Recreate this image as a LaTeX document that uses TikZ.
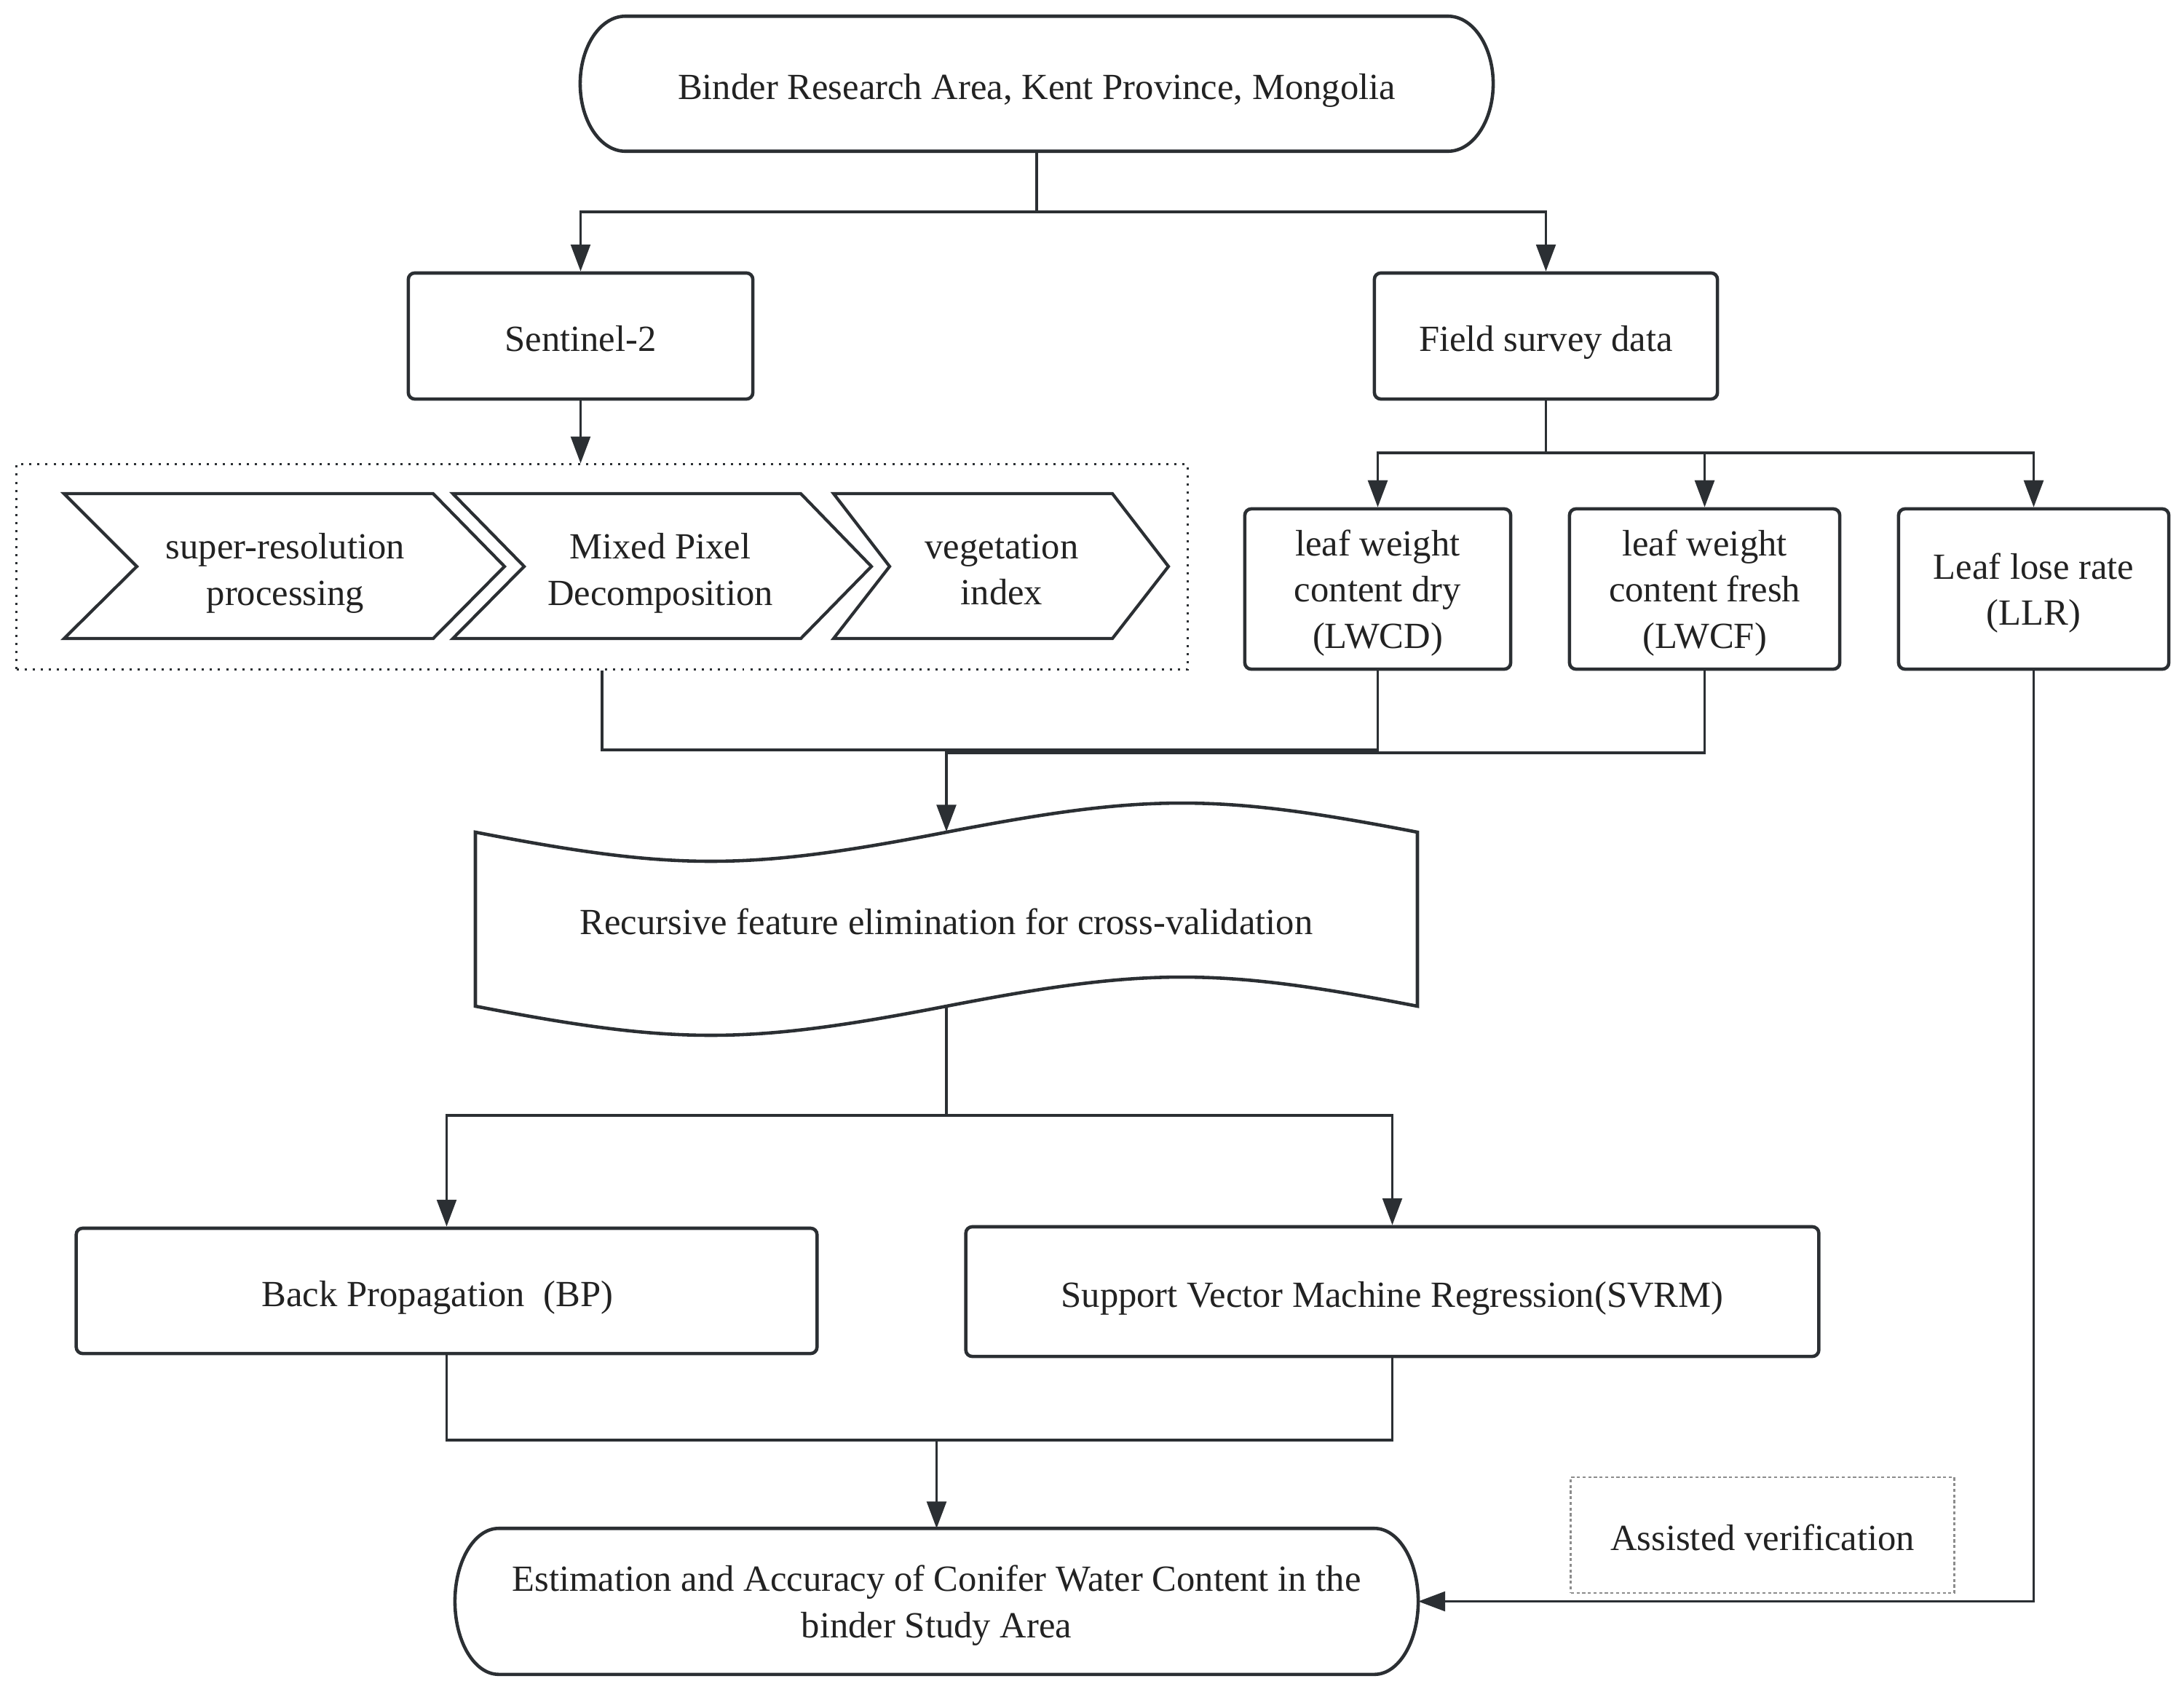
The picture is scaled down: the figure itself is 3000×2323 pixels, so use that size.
\documentclass[tikz,border=0pt]{standalone}
\usepackage{fontspec}
\setmainfont{Liberation Serif}
\usetikzlibrary{arrows.meta,calc}
\definecolor{ln}{HTML}{2B2F33}
\definecolor{tx}{HTML}{222222}
\definecolor{gr}{HTML}{8C8C8C}
\tikzset{
 boxline/.style={draw=ln, line width=1.3pt},
 rbox/.style={boxline, rounded corners=2.5pt, align=center, text=tx, inner sep=0pt, text height=12pt, text depth=0pt},
 mrbox/.style={boxline, rounded corners=2.5pt, align=center, text=tx, inner sep=0pt, text depth=-1.8pt},
 plain/.style={align=center, text=tx, inner sep=0pt, text height=12pt, text depth=0pt},
 mplain/.style={align=center, text=tx, inner sep=0pt, text depth=-1.8pt},
 conn/.style={draw=ln, line width=1pt},
 arr/.style={conn, -{Triangle[length=10.5pt,width=7.6pt]}},
}
\newcommand\termoutline[2]{%
 \draw[boxline] ($(#1.north west)+(#2,0)$) -- ($(#1.north east)+(-#2,0)$)
 .. controls ($(#1.north east)+(-0.4477*#2,0)$) and ($(#1.north east)!0.4477!(#1.east)$) .. (#1.east)
 .. controls ($(#1.south east)!0.4477!(#1.east)$) and ($(#1.south east)+(-0.4477*#2,0)$) .. ($(#1.south east)+(-#2,0)$)
 -- ($(#1.south west)+(#2,0)$)
 .. controls ($(#1.south west)+(0.4477*#2,0)$) and ($(#1.south west)!0.4477!(#1.west)$) .. (#1.west)
 .. controls ($(#1.north west)!0.4477!(#1.west)$) and ($(#1.north west)+(0.4477*#2,0)$) .. cycle;}
\begin{document}
\begin{tikzpicture}[x=0.01cm,y=-0.01cm,font=\fontsize{14.4}{18}\selectfont]
\useasboundingbox[fill=white] (0,0) rectangle (3000,2323);

% top terminal
\node[plain, minimum width=12.52cm, minimum height=1.84cm] (top) at (1424,115) {Binder Research Area, Kent Province, Mongolia};
\termoutline{top}{62}

% first-level boxes
\node[rbox, minimum width=4.73cm, minimum height=1.73cm] (sen) at (797.5,461.5) {Sentinel-2};
\node[rbox, minimum width=4.71cm, minimum height=1.73cm] (field) at (2123.5,461.5) {Field survey data};

% dotted group
\node[draw=ln, line width=0.85pt, dash pattern=on 0.85pt off 2.3pt, minimum width=16.08cm, minimum height=2.81cm, inner sep=0pt] (dotbox) at (827,778.5) {};
\draw[boxline, line width=1.2pt, line join=miter] (88,678) -- (595,678) -- (693,778) -- (595,877) -- (88,877) -- (188,778) -- cycle;
\draw[boxline, line width=1.2pt, line join=miter] (622,678) -- (1100,678) -- (1197,778) -- (1100,877) -- (622,877) -- (720,778) -- cycle;
\draw[boxline, line width=1.2pt, line join=miter] (1145,678) -- (1528,678) -- (1605,778) -- (1528,877) -- (1145,877) -- (1222,778) -- cycle;
\node[mplain] (c1) at (392,782) {super-resolution\\processing};
\node[mplain] (c2) at (907,782) {Mixed Pixel\\Decomposition};
\node[mplain] (c3) at (1376,782) {vegetation\\index};

% field survey boxes
\node[mrbox, minimum width=3.65cm, minimum height=2.2cm] (lwcd) at (1892.5,809) {leaf weight\\content dry\\(LWCD)};
\node[mrbox, minimum width=3.71cm, minimum height=2.2cm] (lwcf) at (2341.5,809) {leaf weight\\content fresh\\(LWCF)};
\node[mrbox, minimum width=3.71cm, minimum height=2.2cm] (llr) at (2793.5,809) {Leaf lose rate\\(LLR)};

% wave (RFE)
\node[plain, minimum width=12.94cm, minimum height=2.39cm] (rfe) at (1300,1262.5) {Recursive feature elimination for cross-validation};
\draw[boxline] (653,1143) .. controls (928,1196.3) and (1025,1196.3) .. (1300,1143)
 .. controls (1575,1089.7) and (1672,1089.7) .. (1947,1143) -- (1947,1382)
 .. controls (1672,1328.7) and (1575,1328.7) .. (1300,1382)
 .. controls (1025,1435.3) and (928,1435.3) .. (653,1382) -- cycle;

% models
\node[rbox, minimum width=10.17cm, minimum height=1.72cm] (bp) at (613.5,1773) {Back Propagation\hspace{0.5em}(BP)\hspace{0.5em}};
\node[rbox, minimum width=11.71cm, minimum height=1.78cm] (svrm) at (1912.5,1774) {Support Vector Machine Regression(SVRM)};

% bottom terminal
\node[mplain, minimum width=13.21cm, minimum height=1.99cm] (bot) at (1286.5,2199.5) {Estimation and Accuracy of Conifer Water Content in the\\binder Study Area};
\termoutline{bot}{60}

% assisted verification
\node[draw=gr, line width=0.8pt, dash pattern=on 1.2pt off 1pt, minimum width=5.26cm, minimum height=1.59cm, plain] (assist) at (2421,2108.5) {Assisted verification};

% connectors
\coordinate (j1) at (1424,291);
\draw[conn] (top.south) -- (j1);
\draw[arr] (j1) -| (sen.north);
\draw[arr] (j1) -| (field.north);
\draw[arr] (sen.south) -- (sen.south |- dotbox.north);

\coordinate (j2) at (2123.5,622);
\draw[conn] (field.south) -- (j2);
\draw[arr] (j2) -| (lwcd.north);
\draw[arr] (j2) -| (lwcf.north);
\draw[arr] (j2) -| (llr.north);

\coordinate (h1) at (0,1030);
\coordinate (h2) at (0,1034);
\draw[conn] (dotbox.south) -- (dotbox.south |- h1) -- (lwcd.south |- h1) -- (lwcd.south);
\draw[arr] (lwcf.south) -- (lwcf.south |- h2) -- (rfe.north |- h2) -- (rfe.north);

\coordinate (j3) at (1300,1532);
\draw[conn] (rfe.south) -- (j3);
\draw[arr] (j3) -| (bp.north);
\draw[arr] (j3) -| (svrm.north);

\coordinate (h3) at (0,1978);
\draw[conn] (bp.south) -- (bp.south |- h3) -- (svrm.south |- h3) -- (svrm.south);
\draw[arr] (bot.north |- h3) -- (bot.north);

\draw[arr] (llr.south) |- (bot.east);
\end{tikzpicture}
\end{document}
